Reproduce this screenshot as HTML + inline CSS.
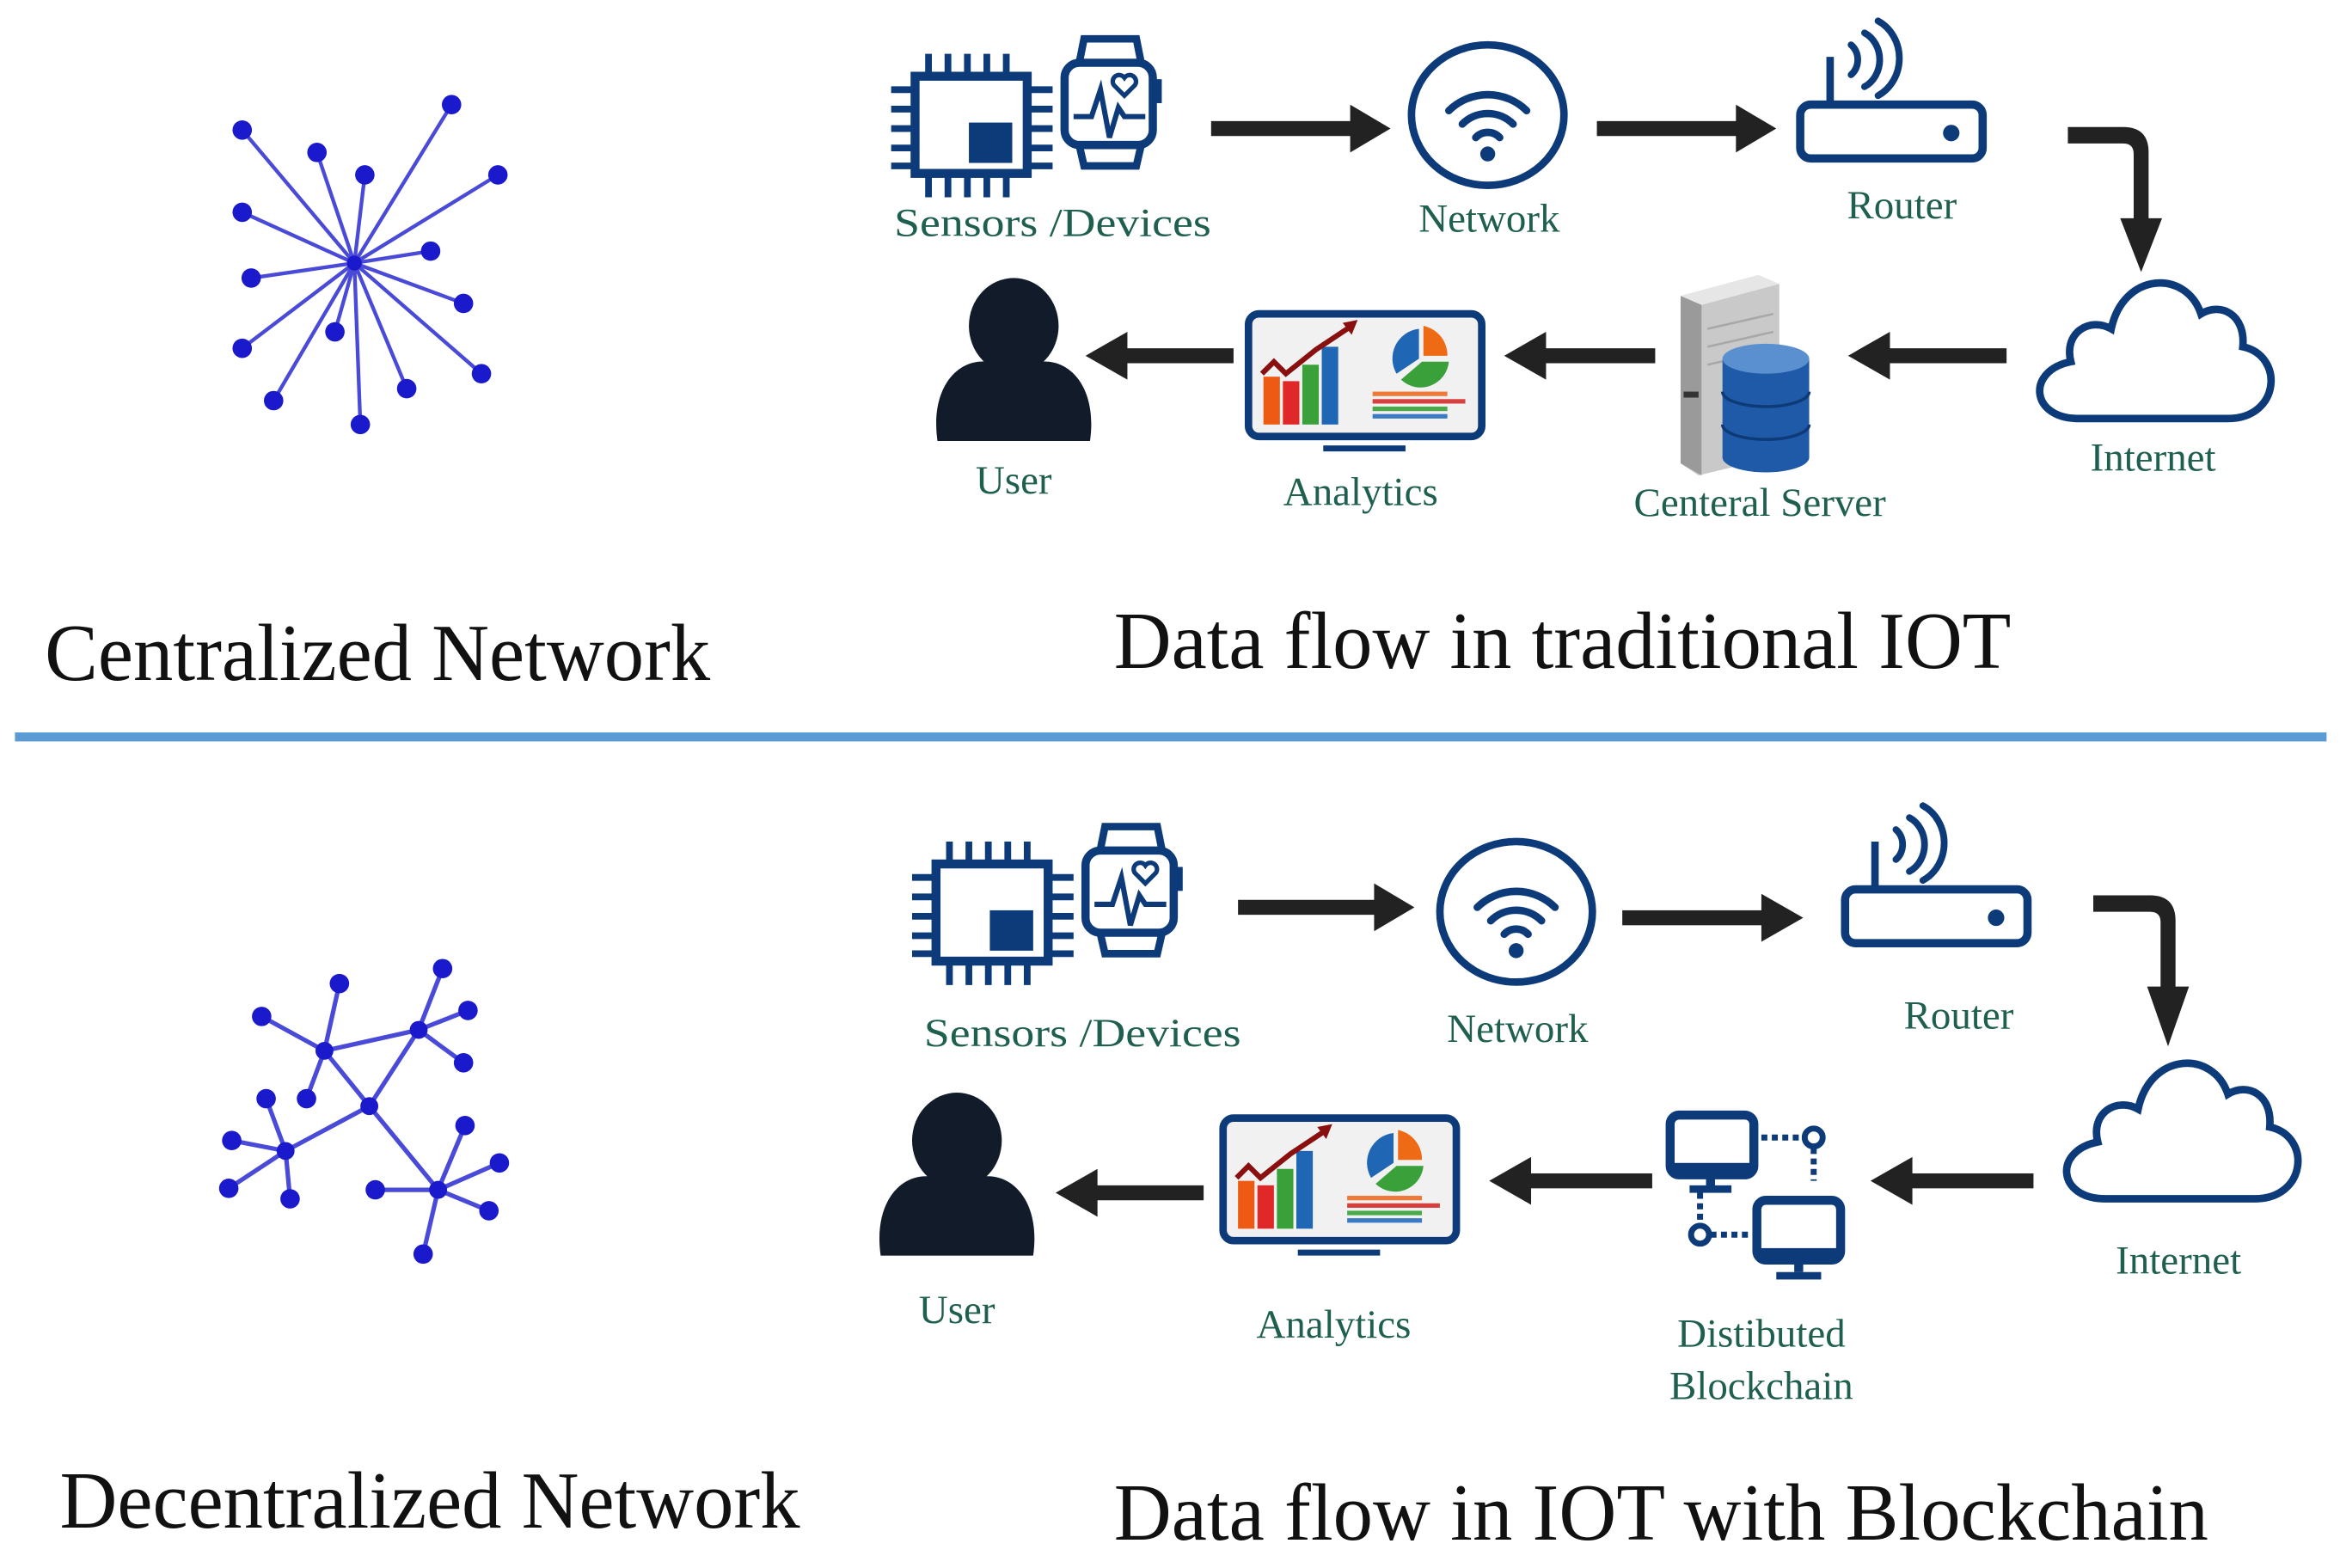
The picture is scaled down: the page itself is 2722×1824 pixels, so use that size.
<!DOCTYPE html>
<html><head><meta charset="utf-8">
<style>
html,body{margin:0;padding:0;background:#fff;}
svg{display:block;}
.lbl{font-family:"Liberation Serif",serif;fill:#1f5f4f;font-size:27px;}
.ttl{font-family:"Liberation Serif",serif;fill:#111;font-size:54px;}
</style></head>
<body>
<svg width="2722" height="1824" viewBox="0 0 1565 1049" preserveAspectRatio="none" xmlns="http://www.w3.org/2000/svg">
<defs>
  <g id="sensors">
    <!-- chip -->
    <rect x="612" y="51" width="75" height="65" fill="none" stroke="#0d3b7a" stroke-width="6"/>
    <rect x="648" y="82" width="29" height="27" fill="#0d3b7a"/>
    <g stroke="#0d3b7a" stroke-width="4.5">
      <line x1="621" y1="36" x2="621" y2="50"/><line x1="634" y1="36" x2="634" y2="50"/><line x1="647" y1="36" x2="647" y2="50"/><line x1="660" y1="36" x2="660" y2="50"/><line x1="673" y1="36" x2="673" y2="50"/>
      <line x1="621" y1="117" x2="621" y2="132"/><line x1="634" y1="117" x2="634" y2="132"/><line x1="647" y1="117" x2="647" y2="132"/><line x1="660" y1="117" x2="660" y2="132"/><line x1="673" y1="117" x2="673" y2="132"/>
      <line x1="596" y1="60" x2="611" y2="60"/><line x1="596" y1="73" x2="611" y2="73"/><line x1="596" y1="86" x2="611" y2="86"/><line x1="596" y1="99" x2="611" y2="99"/><line x1="596" y1="111" x2="611" y2="111"/>
      <line x1="688" y1="60" x2="704" y2="60"/><line x1="688" y1="73" x2="704" y2="73"/><line x1="688" y1="86" x2="704" y2="86"/><line x1="688" y1="99" x2="704" y2="99"/><line x1="688" y1="111" x2="704" y2="111"/>
    </g>
    <!-- watch -->
    <rect x="712" y="42" width="59" height="55" rx="10" fill="none" stroke="#0d3b7a" stroke-width="5.5"/>
    <path d="M722 41 L725 26 H760 L763 41" fill="none" stroke="#0d3b7a" stroke-width="5"/>
    <path d="M722 98 L725 111 H760 L763 98" fill="none" stroke="#0d3b7a" stroke-width="5"/>
    <rect x="772" y="53" width="5" height="16" fill="#0d3b7a"/>
    <path d="M718 78 H730 L736 60 L742 92 L748 72 L752 78 H766" fill="none" stroke="#0d3b7a" stroke-width="3.5"/>
    <path d="M752 64 L745 57 a4 4 0 0 1 7-5 a4 4 0 0 1 7 5 Z" fill="none" stroke="#0d3b7a" stroke-width="3"/>
  </g>
  <g id="network">
    <ellipse cx="995" cy="77" rx="51" ry="47" fill="none" stroke="#0d3b7a" stroke-width="5"/>
    <g fill="none" stroke="#0d3b7a" stroke-width="5" stroke-linecap="round">
      <path d="M969 74 A37 37 0 0 1 1021 74"/>
      <path d="M978 83 A24 24 0 0 1 1012 83"/>
      <path d="M987 92 A11 11 0 0 1 1003 92"/>
    </g>
    <circle cx="995" cy="103" r="5" fill="#0d3b7a"/>
  </g>
  <g id="router">
    <rect x="1204" y="70" width="122" height="36" rx="7" fill="none" stroke="#0d3b7a" stroke-width="5.5"/>
    <circle cx="1305" cy="89" r="5.5" fill="#0d3b7a"/>
    <line x1="1224" y1="69" x2="1224" y2="38" stroke="#0d3b7a" stroke-width="5"/>
    <g fill="none" stroke="#0d3b7a" stroke-width="4.5" stroke-linecap="round">
      <path d="M1238 30 A10 12 0 0 1 1238 50"/>
      <path d="M1247 22 A18 20 0 0 1 1247 58"/>
      <path d="M1256 14 A26 28 0 0 1 1256 64"/>
    </g>
  </g>
  <g id="cloud">
    <path d="M1390 280 H1490 C1525 280 1528 238 1500 232 C1502 210 1485 202 1472 210 C1462 180 1420 182 1412 220 C1398 212 1380 222 1385 242 C1355 248 1358 280 1390 280 Z" fill="none" stroke="#0d3b7a" stroke-width="5"/>
  </g>
  <g id="monitor">
    <rect x="835" y="210" width="156" height="82" rx="7" fill="#f1f1f1" stroke="#0d3b7a" stroke-width="5"/>
    <rect x="885" y="298" width="55" height="4" fill="#0d3b7a"/>
    <rect x="845" y="252" width="11" height="32" fill="#ee5a14"/>
    <rect x="858" y="255" width="11" height="29" fill="#e02828"/>
    <rect x="871" y="244" width="11" height="40" fill="#3aa03a"/>
    <rect x="884" y="232" width="11" height="52" fill="#1f66b5"/>
    <polyline points="844,250 852,242 860,250 880,234 904,218" fill="none" stroke="#8a1010" stroke-width="3.5"/>
    <polygon points="898,216 908,214 904,224" fill="#8a1010"/>
    <path d="M949 240 L949 220 A20 20 0 0 0 934 250 Z" fill="#1f66b5"/>
    <path d="M951 242 L969 242 A19 19 0 0 1 937 254 Z" fill="#3aa03a"/>
    <path d="M952 238 L952 218 A20 20 0 0 1 968 238 Z" fill="#ee6a14"/>
    <rect x="918" y="262" width="50" height="3" fill="#ee7a3a"/>
    <rect x="918" y="267" width="62" height="3" fill="#d84040"/>
    <rect x="918" y="272" width="50" height="3" fill="#4aaa4a"/>
    <rect x="918" y="277" width="50" height="3" fill="#3a7ac5"/>
  </g>
  <g id="user">
    <ellipse cx="678" cy="218" rx="30" ry="32" fill="#111b2a"/>
    <path d="M627 295 C622 260 640 240 660 242 H696 C716 240 734 260 729 295 Z" fill="#111b2a"/>
  </g>
</defs>

<!-- ===== Centralized star ===== -->
<g stroke="#4a4ad8" stroke-width="2.5">
  <line x1="237" y1="176" x2="162" y2="87"/><line x1="237" y1="176" x2="212" y2="102"/><line x1="237" y1="176" x2="244" y2="117"/>
  <line x1="237" y1="176" x2="302" y2="70"/><line x1="237" y1="176" x2="333" y2="117"/><line x1="237" y1="176" x2="162" y2="142"/>
  <line x1="237" y1="176" x2="288" y2="168"/><line x1="237" y1="176" x2="168" y2="186"/><line x1="237" y1="176" x2="310" y2="203"/>
  <line x1="237" y1="176" x2="162" y2="233"/><line x1="237" y1="176" x2="224" y2="222"/><line x1="237" y1="176" x2="322" y2="250"/>
  <line x1="237" y1="176" x2="183" y2="268"/><line x1="237" y1="176" x2="272" y2="260"/><line x1="237" y1="176" x2="241" y2="284"/>
</g>
<g fill="#1a1acc">
  <circle cx="237" cy="176" r="5"/>
  <circle cx="162" cy="87" r="6.5"/><circle cx="212" cy="102" r="6.5"/><circle cx="244" cy="117" r="6.5"/><circle cx="302" cy="70" r="6.5"/><circle cx="333" cy="117" r="6.5"/>
  <circle cx="162" cy="142" r="6.5"/><circle cx="288" cy="168" r="6.5"/><circle cx="168" cy="186" r="6.5"/><circle cx="310" cy="203" r="6.5"/><circle cx="162" cy="233" r="6.5"/>
  <circle cx="224" cy="222" r="6.5"/><circle cx="322" cy="250" r="6.5"/><circle cx="183" cy="268" r="6.5"/><circle cx="272" cy="260" r="6.5"/><circle cx="241" cy="284" r="6.5"/>
</g>

<!-- ===== Top flow ===== -->
<use href="#sensors"/>
<use href="#network"/>
<use href="#router"/>
<use href="#cloud"/>
<use href="#monitor"/>
<use href="#user"/>

<!-- server -->
<g>
  <polygon points="1124,198 1176,184 1190,190 1190,305 1136,318 1124,310" fill="#c9c9c9"/>
  <polygon points="1124,198 1176,184 1190,190 1138,204" fill="#e6e6e6"/>
  <polygon points="1124,198 1138,204 1138,318 1124,310" fill="#9a9a9a"/>
  <g stroke="#a8a8a8" stroke-width="1.5"><line x1="1142" y1="220" x2="1186" y2="210"/><line x1="1142" y1="232" x2="1186" y2="222"/><line x1="1142" y1="244" x2="1186" y2="234"/></g>
  <rect x="1126" y="262" width="10" height="4" fill="#333"/>
  <rect x="1152" y="240" width="58" height="66" fill="#1e5aa8"/>
  <ellipse cx="1181" cy="240" rx="29" ry="10" fill="#5a8fd0"/>
  <ellipse cx="1181" cy="306" rx="29" ry="10" fill="#1e5aa8"/>
  <path d="M1152 262 A29 10 0 0 0 1210 262" fill="none" stroke="#0e3a78" stroke-width="2"/>
  <path d="M1152 284 A29 10 0 0 0 1210 284" fill="none" stroke="#0e3a78" stroke-width="2"/>
</g>

<!-- arrows top -->
<g fill="#222">
  <rect x="810" y="81" width="96" height="10"/><polygon points="903,70 930,86 903,102"/>
  <rect x="1068" y="81" width="96" height="10"/><polygon points="1161,70 1188,86 1161,102"/>
  <path d="M1383 85 H1420 Q1437 85 1437 102 V150 H1427 V103 Q1427 96 1420 96 H1383 Z"/><polygon points="1418,146 1446,146 1432,182"/>
  <rect x="1261" y="233" width="81" height="10"/><polygon points="1264,222 1236,238 1264,254"/>
  <rect x="1031" y="233" width="76" height="10"/><polygon points="1034,222 1006,238 1034,254"/>
  <rect x="751" y="233" width="74" height="10"/><polygon points="754,222 726,238 754,254"/>
</g>

<!-- labels top -->
<text class="lbl" x="598" y="158" textLength="212" lengthAdjust="spacingAndGlyphs">Sensors /Devices</text>
<text class="lbl" x="996" y="155" text-anchor="middle">Network</text>
<text class="lbl" x="1272" y="146" text-anchor="middle">Router</text>
<text class="lbl" x="1440" y="315" text-anchor="middle">Internet</text>
<text class="lbl" x="1177" y="345" text-anchor="middle">Centeral Server</text>
<text class="lbl" x="910" y="338" text-anchor="middle">Analytics</text>
<text class="lbl" x="678" y="330" text-anchor="middle">User</text>

<text class="ttl" x="30" y="455" textLength="445" lengthAdjust="spacingAndGlyphs">Centralized Network</text>
<text class="ttl" x="745" y="447" textLength="600" lengthAdjust="spacingAndGlyphs">Data flow in traditional IOT</text>

<rect x="10" y="490" width="1546" height="6" fill="#5b9bd5"/>

<!-- ===== Decentralized network ===== -->
<g stroke="#4a4ad8" stroke-width="3">
  <line x1="217" y1="703" x2="280" y2="689"/><line x1="217" y1="703" x2="247" y2="740"/><line x1="280" y1="689" x2="247" y2="740"/>
  <line x1="247" y1="740" x2="191" y2="770"/><line x1="247" y1="740" x2="293" y2="796"/>
  <line x1="217" y1="703" x2="227" y2="658"/><line x1="217" y1="703" x2="175" y2="680"/><line x1="217" y1="703" x2="205" y2="735"/>
  <line x1="280" y1="689" x2="296" y2="648"/><line x1="280" y1="689" x2="313" y2="676"/><line x1="280" y1="689" x2="310" y2="711"/>
  <line x1="191" y1="770" x2="178" y2="735"/><line x1="191" y1="770" x2="155" y2="763"/><line x1="191" y1="770" x2="153" y2="795"/><line x1="191" y1="770" x2="194" y2="802"/>
  <line x1="293" y1="796" x2="311" y2="753"/><line x1="293" y1="796" x2="334" y2="778"/><line x1="293" y1="796" x2="327" y2="810"/><line x1="293" y1="796" x2="283" y2="839"/><line x1="293" y1="796" x2="251" y2="796"/>
</g>
<g fill="#1a1acc">
  <circle cx="217" cy="703" r="6"/><circle cx="280" cy="689" r="6"/><circle cx="247" cy="740" r="6"/><circle cx="191" cy="770" r="6"/><circle cx="293" cy="796" r="6"/>
  <circle cx="227" cy="658" r="6.5"/><circle cx="175" cy="680" r="6.5"/><circle cx="205" cy="735" r="6.5"/>
  <circle cx="296" cy="648" r="6.5"/><circle cx="313" cy="676" r="6.5"/><circle cx="310" cy="711" r="6.5"/>
  <circle cx="178" cy="735" r="6.5"/><circle cx="155" cy="763" r="6.5"/><circle cx="153" cy="795" r="6.5"/><circle cx="194" cy="802" r="6.5"/>
  <circle cx="311" cy="753" r="6.5"/><circle cx="334" cy="778" r="6.5"/><circle cx="327" cy="810" r="6.5"/><circle cx="283" cy="839" r="6.5"/><circle cx="251" cy="796" r="6.5"/>
</g>

<!-- ===== Bottom flow ===== -->
<use href="#sensors" transform="translate(14,527)"/>
<use href="#network" transform="translate(19,533)"/>
<use href="#router" transform="translate(30,525)"/>
<use href="#cloud" transform="translate(18,522)"/>
<use href="#monitor" transform="translate(-17,538)"/>
<use href="#user" transform="translate(-38,545)"/>

<!-- blockchain icon -->
<g>
  <rect x="1117" y="746" width="56" height="40" rx="6" fill="none" stroke="#0d3b7a" stroke-width="6"/>
  <rect x="1117" y="778" width="56" height="8" fill="#0d3b7a"/>
  <rect x="1141" y="786" width="6" height="8" fill="#0d3b7a"/>
  <rect x="1130" y="793" width="28" height="5" fill="#0d3b7a"/>
  <rect x="1175" y="803" width="56" height="40" rx="6" fill="none" stroke="#0d3b7a" stroke-width="6"/>
  <rect x="1175" y="835" width="56" height="8" fill="#0d3b7a"/>
  <rect x="1200" y="843" width="6" height="8" fill="#0d3b7a"/>
  <rect x="1188" y="851" width="30" height="5" fill="#0d3b7a"/>
  <circle cx="1213" cy="761" r="6" fill="none" stroke="#0d3b7a" stroke-width="4"/>
  <circle cx="1137" cy="826" r="6" fill="none" stroke="#0d3b7a" stroke-width="4"/>
  <g stroke="#0d3b7a" stroke-width="4" stroke-dasharray="4 3">
    <line x1="1178" y1="761" x2="1206" y2="761"/><line x1="1213" y1="768" x2="1213" y2="790"/>
    <line x1="1144" y1="826" x2="1172" y2="826"/><line x1="1137" y1="798" x2="1137" y2="819"/>
  </g>
</g>

<!-- arrows bottom -->
<g fill="#222">
  <rect x="828" y="602" width="94" height="10"/><polygon points="919,591 946,607 919,623"/>
  <rect x="1085" y="609" width="96" height="10"/><polygon points="1178,598 1206,614 1178,630"/>
  <path d="M1400 599 H1438 Q1455 599 1455 616 V664 H1445 V617 Q1445 610 1438 610 H1400 Z"/><polygon points="1436,660 1464,660 1450,700"/>
  <rect x="1276" y="785" width="84" height="10"/><polygon points="1279,774 1251,790 1279,806"/>
  <rect x="1021" y="785" width="84" height="10"/><polygon points="1024,774 996,790 1024,806"/>
  <rect x="731" y="793" width="74" height="10"/><polygon points="734,782 706,798 734,814"/>
</g>

<!-- labels bottom -->
<text class="lbl" x="618" y="700" textLength="212" lengthAdjust="spacingAndGlyphs">Sensors /Devices</text>
<text class="lbl" x="1015" y="697" text-anchor="middle">Network</text>
<text class="lbl" x="1310" y="688" text-anchor="middle">Router</text>
<text class="lbl" x="1457" y="852" text-anchor="middle">Internet</text>
<text class="lbl" x="1178" y="901" text-anchor="middle">Distibuted</text>
<text class="lbl" x="1178" y="936" text-anchor="middle">Blockchain</text>
<text class="lbl" x="892" y="895" text-anchor="middle">Analytics</text>
<text class="lbl" x="640" y="885" text-anchor="middle">User</text>

<text class="ttl" x="40" y="1022" textLength="495" lengthAdjust="spacingAndGlyphs">Decentralized Network</text>
<text class="ttl" x="745" y="1030" textLength="732" lengthAdjust="spacingAndGlyphs">Data flow in IOT with Blockchain</text>
</svg>
</body></html>
